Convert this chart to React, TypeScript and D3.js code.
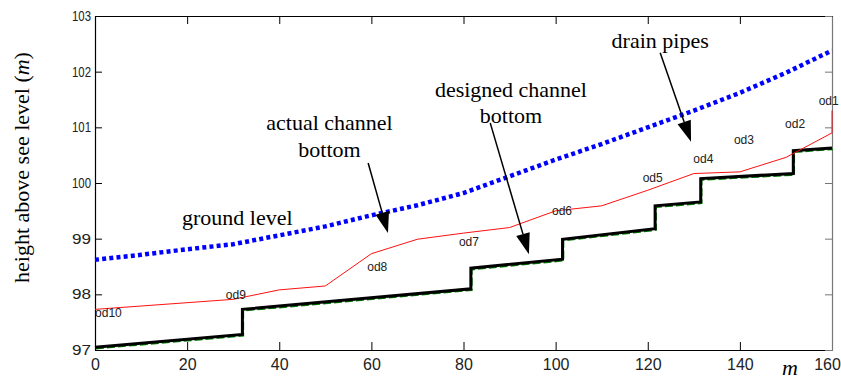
import React, { useEffect, useRef } from "react";
import * as d3 from "d3";

// axis ticks
const xTicks = [0, 20, 40, 60, 80, 100, 120, 140, 160];
const yTicks = [97, 98, 99, 100, 101, 102, 103];

// ground level (blue dotted)
const groundX = [0, 10, 20, 30, 40, 50, 60, 70, 80, 90, 100, 110, 120, 130, 140, 150, 160];
const groundY = [98.62, 98.71, 98.81, 98.9, 99.06, 99.22, 99.42, 99.6, 99.82, 100.12, 100.42, 100.7, 101.0, 101.3, 101.62, 101.98, 102.38];

// actual channel bottom (red)
const actualX = [0, 10, 20, 30, 40, 50, 60, 70, 80, 90, 100, 110, 120, 130, 140, 150, 160, 160];
const actualY = [97.73, 97.79, 97.85, 97.91, 98.08, 98.15, 98.73, 98.99, 99.1, 99.2, 99.5, 99.59, 99.87, 100.17, 100.2, 100.46, 100.9, 101.3];

// designed channel bottom (black steps)
const designedX = [0, 32, 32, 81.6, 81.6, 101.5, 101.5, 121.6, 121.6, 131.5, 131.5, 151.6, 151.6, 160];
const designedY = [97.05, 97.28, 97.73, 98.1, 98.47, 98.63, 98.99, 99.18, 99.59, 99.66, 100.08, 100.17, 100.58, 100.63];

// drain pipe labels
const drainNames = ["od10", "od9", "od8", "od7", "od6", "od5", "od4", "od3", "od2", "od1"];
const drainX = [0, 28.4, 59.1, 79.0, 99.2, 118.9, 129.9, 138.7, 149.8, 157.1];
const drainY = [97.68, 97.99, 98.5, 98.95, 99.51, 100.09, 100.44, 100.79, 101.07, 101.49];

// annotations
const noteLines = [["ground level"], ["actual channel", "bottom"], ["designed channel", "bottom"], ["drain pipes"]];
const noteX = [30.9, 50.9, 90.3, 122.7];
const noteY = [99.245, 100.95, 101.55, 102.42];
const arrowFrom = [[59.3, 100.36], [85.8, 101.08], [122.7, 102.34]];
const arrowTo = [[63.6, 99.1], [94.2, 98.72], [129.4, 100.74]];

const W = 841;
const H = 379;
const margin = { top: 16, right: 9, bottom: 29, left: 95 };

const App = () => {
  const svgRef = useRef<SVGSVGElement | null>(null);

  useEffect(() => {
    const svg = d3.select(svgRef.current);
    svg.selectAll("*").remove();

    const innerW = W - margin.left - margin.right;
    const innerH = H - margin.top - margin.bottom;

    const x = d3.scaleLinear().domain([0, 160]).range([0, innerW]);
    const y = d3.scaleLinear().domain([97, 103]).range([innerH, 0]);

    const g = svg.append("g").attr("transform", `translate(${margin.left},${margin.top})`);

    const sans = "'Liberation Sans', Arial, sans-serif";
    const serif = "'Liberation Serif', 'Times New Roman', serif";

    // axes (MATLAB box, ticks inside)
    const bottom = g
      .append("g")
      .attr("transform", `translate(0,${innerH})`)
      .call(d3.axisBottom(x).tickValues(xTicks).tickSizeInner(-8).tickSizeOuter(0).tickPadding(8.6));
    bottom
      .selectAll("text")
      .attr("font-size", 16)
      .attr("font-family", sans)
      .attr("fill", "#222")
      .attr("dx", (d: any) => (d === 160 ? -5 : 0));

    const left = g
      .append("g")
      .call(
        d3
          .axisLeft(y)
          .tickValues(yTicks)
          .tickSizeInner(-7)
          .tickSizeOuter(0)
          .tickPadding(4)
          .tickFormat(d3.format("d"))
      );
    left
      .selectAll("text")
      .attr("font-size", 14)
      .attr("font-family", sans)
      .attr("fill", "#222")
      .attr("textLength", 19)
      .attr("lengthAdjust", "spacingAndGlyphs");

    g.append("g")
      .call(d3.axisTop(x).tickValues(xTicks).tickSizeInner(-8).tickSizeOuter(0).tickFormat(() => ""));
    const right = g
      .append("g")
      .attr("transform", `translate(${innerW},0)`)
      .call(d3.axisRight(y).tickValues(yTicks).tickSizeInner(-7).tickSizeOuter(0).tickFormat(() => ""));
    right.selectAll("path, line").attr("stroke", "#777");
    g.selectAll(".domain").attr("stroke-width", 1.2);

    const path = (xs: number[], ys: number[]) =>
      d3.line<number>().x((d) => x(d)).y((_, i) => y(ys[i]))(xs);

    // designed channel bottom: green dashed under thick black
    g.append("path")
      .attr("d", path(designedX, designedY))
      .attr("transform", "translate(1,1.5)")
      .attr("fill", "none")
      .attr("stroke", "#008000")
      .attr("stroke-width", 1.5)
      .attr("stroke-dasharray", "8 3");
    g.append("path")
      .attr("d", path(designedX, designedY))
      .attr("fill", "none")
      .attr("stroke", "#000")
      .attr("stroke-width", 3);

    // actual channel bottom
    g.append("path")
      .attr("d", path(actualX, actualY))
      .attr("fill", "none")
      .attr("stroke", "#ff1010")
      .attr("stroke-width", 1);

    // ground level
    g.append("path")
      .attr("d", path(groundX, groundY))
      .attr("fill", "none")
      .attr("stroke", "#0000ff")
      .attr("stroke-width", 4.5)
      .attr("stroke-dasharray", "4 3.2");

    // drain pipe labels (slightly condensed like the original)
    drainNames.forEach((name, i) => {
      g.append("text")
        .attr("x", x(drainX[i]))
        .attr("y", y(drainY[i]))
        .attr("dominant-baseline", "central")
        .attr("font-family", sans)
        .attr("font-size", 13)
        .attr("fill", "#222")
        .attr("textLength", name.length * 6.7)
        .attr("lengthAdjust", "spacingAndGlyphs")
        .text(name);
    });

    // annotation texts
    noteLines.forEach((lines, i) => {
      const t = g
        .append("text")
        .attr("text-anchor", "middle")
        .attr("font-family", serif)
        .attr("font-size", 22)
        .attr("fill", "#000");
      lines.forEach((s, j) => {
        t.append("tspan")
          .attr("x", x(noteX[i]))
          .attr("y", y(noteY[i]) + j * 26.5)
          .text(s);
      });
    });

    // arrows
    arrowFrom.forEach((from, i) => {
      const x0 = x(from[0]);
      const y0 = y(from[1]);
      const x1 = x(arrowTo[i][0]);
      const y1 = y(arrowTo[i][1]);
      const len = Math.hypot(x1 - x0, y1 - y0);
      const ux = (x1 - x0) / len;
      const uy = (y1 - y0) / len;
      const bx = x1 - ux * 21;
      const by = y1 - uy * 21;
      g.append("line")
        .attr("x1", x0)
        .attr("y1", y0)
        .attr("x2", bx)
        .attr("y2", by)
        .attr("stroke", "#000")
        .attr("stroke-width", 1.5);
      g.append("polygon")
        .attr("points", `${x1},${y1} ${bx - uy * 7},${by + ux * 7} ${bx + uy * 7},${by - ux * 7}`)
        .attr("fill", "#000");
    });

    // axis titles
    const yt = svg
      .append("text")
      .attr("transform", "translate(28.5,167.5) rotate(-90)")
      .attr("text-anchor", "middle")
      .attr("font-family", serif)
      .attr("font-size", 22)
      .attr("fill", "#000");
    yt.append("tspan").text("height above see level (");
    yt.append("tspan").attr("font-style", "italic").text("m");
    yt.append("tspan").text(")");

    svg
      .append("text")
      .attr("x", 782)
      .attr("y", 375)
      .attr("font-family", serif)
      .attr("font-style", "italic")
      .attr("font-size", 22)
      .attr("fill", "#000")
      .text("m");
  }, []);

  return (
    <svg
      ref={svgRef}
      width={W}
      height={H}
      style={{ position: "absolute", left: 0, top: 0, background: "#fff" }}
    />
  );
};

export default App;
